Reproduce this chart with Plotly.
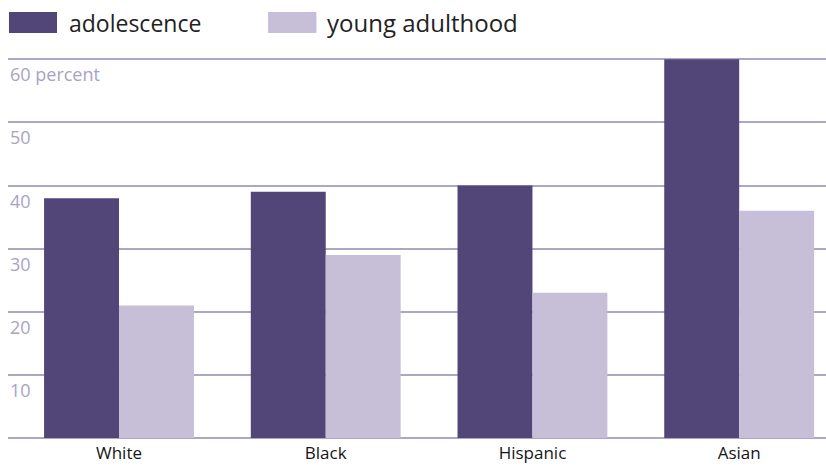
import plotly.graph_objects as go

categories = ["White", "Black", "Hispanic", "Asian"]
adolescence = [38, 39, 40, 60]
young_adulthood = [21, 29, 23, 36]
series_names = ["adolescence", "young adulthood"]
tick_values = [10, 20, 30, 40, 50, 60]
tick_labels = ["10", "20", "30", "40", "50", "60 percent"]

DARK = "#524577"
LIGHT = "#C7BED7"
GRID = "#ABA7C6"
TICKC = "#A9A3C3"

fig = go.Figure()
fig.add_trace(go.Bar(x=categories, y=adolescence, name=series_names[0],
                     marker=dict(color=DARK, line=dict(width=0))))
fig.add_trace(go.Bar(x=categories, y=young_adulthood, name=series_names[1],
                     marker=dict(color=LIGHT, line=dict(width=0))))

annotations = []
for v, t in zip(tick_values, tick_labels):
    annotations.append(dict(x=0.0, xref="paper", y=v, yref="y", text=t,
                            showarrow=False, xanchor="left", yanchor="top",
                            yshift=-1,
                            font=dict(family="Open Sans", size=18, color=TICKC)))

# custom legend
shapes = [
    dict(type="rect", xref="paper", yref="paper", x0=0.0012, x1=0.0599,
         y0=1.066, y1=1.121, fillcolor=DARK, line=dict(width=0)),
    dict(type="rect", xref="paper", yref="paper", x0=0.318, x1=0.377,
         y0=1.066, y1=1.121, fillcolor=LIGHT, line=dict(width=0)),
]
annotations.append(dict(x=0.0722, xref="paper", y=1.093, yref="paper", text=series_names[0],
                        showarrow=False, xanchor="left", yanchor="middle",
                        font=dict(family="Open Sans", size=23, color="#222222")))
annotations.append(dict(x=0.387, xref="paper", y=1.093, yref="paper", text=series_names[1],
                        showarrow=False, xanchor="left", yanchor="middle",
                        font=dict(family="Open Sans", size=24, color="#222222")))

fig.update_layout(
    width=826, height=466,
    margin=dict(l=8, r=0, t=58, b=28),
    plot_bgcolor="white", paper_bgcolor="white",
    barmode="group", bargap=0.275, bargroupgap=0,
    showlegend=False,
    shapes=shapes,
    annotations=annotations,
    xaxis=dict(range=[-0.537, 3.42], showgrid=False, zeroline=False,
               showline=False, ticks="", ticklabelstandoff=3,
               tickfont=dict(family="Open Sans", size=17, color="#151515")),
    yaxis=dict(range=[0, 60.2], tickvals=tick_values, showticklabels=False,
               showgrid=True, gridcolor=GRID, gridwidth=1.6,
               zeroline=True, zerolinecolor=GRID, zerolinewidth=1.8,
               showline=False, ticks=""),
)

fig.write_html("out.html", config={"displayModeBar": False},
               post_script="document.body.style.margin='0';document.body.style.overflow='hidden';")
